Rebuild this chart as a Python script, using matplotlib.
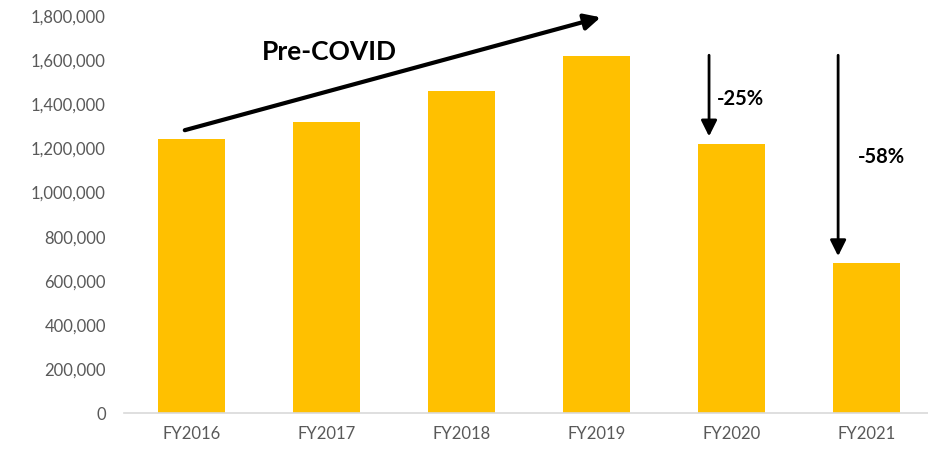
import matplotlib.pyplot as plt
from matplotlib.ticker import FuncFormatter

# yearly totals
years = ['FY2016', 'FY2017', 'FY2018', 'FY2019', 'FY2020', 'FY2021']
totals = [1245000, 1320000, 1460000, 1620000, 1220000, 680000]
yticks = [0, 200000, 400000, 600000, 800000, 1000000, 1200000, 1400000, 1600000, 1800000]

plt.rcParams['font.family'] = ['Lato', 'DejaVu Sans']

fig = plt.figure(figsize=(9.29, 4.5), dpi=100)
ax = fig.add_axes([0.1335, 0.082, 0.872, 0.882])

x = list(range(len(years)))
ax.bar(x, totals, width=0.5, color='#FFC000', zorder=2)

ax.set_xlim(-0.5, len(years) - 0.5)
ax.set_ylim(0, 1800000)
ax.set_xticks(x)
ax.set_xticklabels(years)
ax.set_yticks(yticks)
ax.yaxis.set_major_formatter(FuncFormatter(lambda v, p: f'{int(v):,}'))
ax.tick_params(axis='both', length=0, colors='#595959', labelsize=12)
ax.tick_params(axis='y', pad=13)
ax.tick_params(axis='x', pad=9)

for s in ['top', 'right', 'left']:
    ax.spines[s].set_visible(False)
ax.spines['bottom'].set_color('#d9d9d9')
ax.spines['bottom'].set_linewidth(1.2)

# growth trend arrow
ax.annotate('', xy=(3.03, 1795000), xytext=(-0.05, 1283000),
            arrowprops=dict(arrowstyle='-|>', color='black', lw=3,
                            mutation_scale=24, shrinkA=0, shrinkB=0),
            annotation_clip=False)
ax.text(0.52, 1638000, 'Pre-COVID', fontsize=19, fontweight='bold',
        ha='left', va='center')

# drop arrows
ax.annotate('', xy=(3.833, 1255000), xytext=(3.833, 1623000),
            arrowprops=dict(arrowstyle='-|>', color='black', lw=2,
                            mutation_scale=24, shrinkA=0, shrinkB=0))
ax.text(3.893, 1425000, '-25%', fontsize=14.5, fontweight='bold', ha='left', va='center')

ax.annotate('', xy=(4.789, 712000), xytext=(4.789, 1623000),
            arrowprops=dict(arrowstyle='-|>', color='black', lw=2,
                            mutation_scale=24, shrinkA=0, shrinkB=0))
ax.text(4.937, 1162000, '-58%', fontsize=14.5, fontweight='bold', ha='left', va='center')

fig.savefig('out.png', dpi=100)
